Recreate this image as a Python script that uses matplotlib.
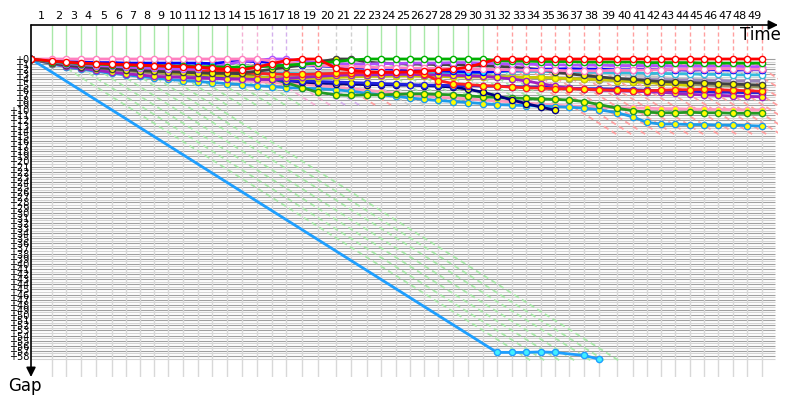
import matplotlib
matplotlib.use("Agg")
import matplotlib.pyplot as plt
import numpy as np

nan = np.nan

# leader lap times (s), lap 1 .. 49
lap_times = [126, 84, 90, 90, 96, 84, 84, 84, 84, 90,
             90, 84, 90, 90, 90, 90, 84, 96, 96, 108,
             90, 96, 84, 90, 84, 84, 84, 90, 90, 90,
             84, 90, 84, 90, 84, 84, 90, 90, 108, 96,
             84, 84, 84, 90, 84, 84, 90, 84, 90]

# colour of the leader at the end of each lap (g green, p pink, v lavender, r red, k grey)
leader = "ggggggggggggg" + "pp" + "vv" + "rr" + "kk" + "ggggggggg" + "rrrrrrrrrrrrrrrrrrr"
# depth of the dashed reference lines from each lap mark
diag_depth = [59] * 7 + [9] * 23 + [15] * 18 + [0]
diag_rate = 0.0205

# gaps to leader at laps 0 .. 49
gap_pink = [0, 0, 0, 0, 0, 0, 0, 0, 0, 0,
            0, 0, 0, 0, 0, 0, 0.4, 0.8, 1.0, 1.2,
            1.4, 1.5, 1.6, 1.7, 1.7, 1.8, 1.8, 1.9, 1.9, 2.0,
            2.0, 2.1, 2.1, 2.2, 2.2, 2.2, 2.3, 2.3, 2.3, 2.2,
            2.2, 2.1, 2.1, 2.0, 2.0, 2.0, 1.9, 1.9, 2.0, 2.0]
gap_red = [0, 0.4, 0.6, 0.8, 0.9, 1.0, 1.1, 1.2, 1.3, 1.4,
           1.5, 1.6, 1.8, 2.0, 2.1, 1.6, 0.9, 0.3, 0, 0,
           1.8, 2.2, 2.5, 2.6, 2.6, 2.5, 2.4, 2.2, 2.0, 1.6,
           0.8, 0, 0, 0, 0, 0, 0, 0, 0, 0,
           0, 0, 0, 0, 0, 0, 0, 0, 0, 0]
gap_red2 = [0, 0.6, 0.9, 1.1, 1.3, 1.5, 1.6, 1.8, 1.9, 2.0,
            2.1, 2.2, 2.3, 2.5, 2.7, 2.8, 2.9, 3.0, 3.0, 2.9,
            2.8, 2.7, 2.7, 2.6, 2.5, 2.4, 3.0, 4.2, 4.8, 5.0,
            5.2, 5.3, 5.5, 5.6, 5.7, 5.8, 5.8, 5.9, 6.0, 6.1,
            6.2, 6.2, 6.1, 6.0, 6.0, 5.9, 6.0, 6.1, 6.2, 6.3]
gap_green = [0, 0.5, 0.7, 0.9, 1.0, 1.1, 1.2, 1.3, 1.3, 1.4,
             1.4, 1.5, 1.5, 1.6, 1.6, 1.5, 1.4, 1.2, 1.0, 0.8,
             0.5, 0.2, 0, 0, 0, 0, 0, 0, 0, 0,
             0, 0.3, 0.4, 0.4, 0.5, 0.5, 0.5, 0.6, 0.6, 0.6,
             0.6, 0.7, 0.7, 0.7, 0.7, 0.8, 0.8, 0.8, 0.8, 0.8]
gap_blue = [0, 0.3, 0.5, 0.6, 0.7, 0.7, 0.8, 0.8, 0.8, 0.8,
            0.8, 0.8, 0.9, 0.6, 0.4, 0.5, 0.7, 0.9, 1.1, 1.3,
            1.5, 1.7, 1.8, 1.9, 2.0, 2.1, 2.2, 2.3, 2.4, 2.5,
            2.6, 2.4, 2.2, 2.1, 2.0, 2.0, 1.9, 2.0, 2.0, 2.1,
            2.1, 2.0, 2.1, 2.1, 2.2, 2.1, 2.1, 2.2, 2.1, 2.1]
gap_dark = [0, 0.8, 1.2, 1.5, 1.7, 1.9, 2.1, 2.3, 2.4, 2.5,
            2.6, 2.7, 2.8, 2.8, 2.7, 2.4, 2.0, 1.6, 1.2, 0.6,
            0, 0, 0.6, 0.8, 0.9, 1.0, 1.0, 1.1, 1.1, 1.2,
            1.3, 1.4, 1.6, 1.8, 2.1, 2.5, 2.9, 3.2, 3.5, 3.8,
            4.0, 4.2, 4.4, 4.5, 4.6, 4.7, 4.8, 4.9, 5.0, 5.1]
gap_violet = [0, 0.6, 0.9, 1.1, 1.3, 1.4, 1.6, 1.7, 1.8, 1.9,
              2.0, 2.0, 1.6, 1.0, 0.5, 0.2, 0, 0, 0.4, 0.7,
              0.9, 1.0, 1.0, 0.9, 0.9, 0.8, 0.8, 0.8, 0.7, 0.7,
              0.8, 0.9, 1.0, 1.0, 1.1, 1.1, 1.2, 1.2, 1.2, 1.3,
              1.3, 1.3, 1.3, 1.4, 1.4, 1.4, 1.4, 1.4, 1.5, 1.5]
gap_purple = [0, 0.8, 1.4, 1.8, 2.2, 2.6, 2.9, 3.1, 3.4, 3.5,
              3.6, 3.7, 3.8, 3.9, 3.9, 4.0, 4.0, 3.8, 3.6, 3.4,
              3.2, 3.1, 3.1, 3.1, 3.0, 3.0, 3.1, 3.1, 3.2, 3.3,
              3.4, 3.6, 3.9, 4.3, 4.8, 5.3, 5.7, 5.9, 6.1, 6.2,
              6.3, 6.4, 6.5, 6.7, 6.9, 7.0, 7.1, 7.2, 7.3, 7.4]
gap_navy = [0, 0.5, 0.9, 1.2, 1.4, 1.6, 1.8, 2.0, 2.2, 2.3,
            2.4, 2.6, 2.8, 3.0, 3.3, 3.6, 3.9, 4.2, 4.5, 4.7,
            4.8, 4.9, 5.0, 5.0, 5.1, 5.1, 5.2, 5.3, 5.5, 5.9,
            6.5, 7.2, 8.0, 8.7, 9.4, 10.0, nan, nan, nan, nan,
            nan, nan, nan, nan, nan, nan, nan, nan, nan, nan]
gap_sky = [0, 1.0, 1.5, 2.0, 2.4, 2.8, 3.1, 3.4, 3.7, 4.0,
           4.2, 4.4, 4.6, 4.8, 5.0, 5.2, 5.4, 5.6, 5.7, 5.8,
           6.0, 6.3, 6.7, 7.0, 7.3, 7.6, 7.9, 8.1, 8.3, 8.5,
           8.7, 8.9, 9.0, 9.1, 9.2, 9.3, 9.4, 9.6, 9.9, 10.5,
           11.3, 12.4, 12.7, 12.7, 12.8, 12.8, 12.9, 12.9, 13.0, 13.1]
gap_green2 = [0, 0.6, 1.0, 1.3, 1.6, 1.8, 2.0, 2.2, 2.3, 2.4,
              2.5, 2.6, 2.7, 2.8, 3.0, 3.4, 3.9, 4.6, 5.6, 6.5,
              7.0, 7.1, 7.0, 7.0, 6.9, 6.8, 6.8, 6.9, 7.0, 7.2,
              7.4, 7.5, 7.6, 7.7, 7.8, 7.9, 8.0, 8.3, 8.9, 9.6,
              10.1, 10.4, 10.5, 10.5, 10.4, 10.5, 10.5, 10.6, 10.6, 10.6]
gap_rose = [0, 0.9, 1.4, 1.8, 2.1, 2.4, 2.6, 2.8, 3.0, 3.2,
            3.4, 3.6, 3.8, 4.0, 4.2, 4.4, 4.6, 4.8, 5.0, 5.2,
            5.5, 5.8, 6.1, 6.4, 6.7, 7.0, 7.3, 7.5, 7.6, 7.8,
            8.0, 8.2, 8.4, 8.6, 8.8, 9.0, 9.2, 9.3, 9.4, 9.5,
            9.6, 9.6, 9.7, 9.7, 9.8, 9.8, 9.9, 9.9, 10.0, 10.0]
gap_teal = [0, 0.7, 1.0, 1.2, 1.4, 1.5, 1.7, 1.8, 2.0, 2.1,
            2.2, 2.3, 2.4, 2.5, 2.6, 2.7, 2.8, 2.8, 2.9, 2.9,
            2.9, 3.0, 3.0, 3.0, 2.9, 2.9, 2.8, 2.8, 2.7, 2.7,
            2.6, 2.5, 2.4, 2.4, 2.4, 2.5, 2.5, 2.6, 2.6, 2.7,
            2.7, 2.8, 2.8, 2.9, 2.9, 3.0, 3.0, 3.1, 3.1, 3.1]
gap_lilac = [0, 0.4, 0.7, 0.9, 1.1, 1.3, 1.5, 1.6, 1.8, 1.9,
             2.0, 2.1, 2.2, 2.3, 2.5, 2.7, 2.8, 2.9, 3.0, 3.0,
             3.1, 3.1, 3.1, 3.2, 3.2, 3.2, 3.3, 3.3, 3.3, 3.4,
             3.4, 3.5, 3.5, 3.6, 3.6, 3.7, 3.7, 3.8, 3.8, 3.9,
             3.9, 4.0, 4.0, 4.1, 4.1, 4.2, 4.2, 4.3, 4.3, 4.3]
gap_olive = [0, 0.9, 1.3, 1.6, 1.9, 2.1, 2.3, 2.5, 2.7, 2.9,
             3.0, 3.1, 3.2, 3.3, 3.4, 3.5, 3.5, 3.5, 3.4, 3.3,
             3.2, 3.2, 3.1, 3.1, 3.0, 3.0, 3.0, 3.1, 3.1, 3.2,
             3.3, 3.4, 3.5, 3.6, 3.7, 3.8, 3.9, 4.0, 4.1, 4.2,
             4.4, 4.5, 4.7, 4.8, 5.0, 5.1, 5.2, 5.3, 5.4, 5.5]
gap_yellow = [0, 0.6, 1.0, 1.3, 1.6, 1.8, 2.0, 2.2, 2.4, 2.6,
              2.8, 3.0, 3.1, 3.3, 3.4, 3.6, 3.7, 3.8, 3.8, 3.7,
              3.6, 3.5, 3.4, 3.4, 3.3, 3.3, 3.4, 3.4, 3.5, 3.5,
              3.5, 3.5, 3.5, 3.6, 3.6, 3.7, 3.8, 3.9, 4.0, 4.2,
              4.4, 4.6, 4.8, 5.0, 5.2, nan, nan, nan, nan, nan]
gap_blue2 = [0, 0.7, 1.1, 1.5, 1.8, 2.0, 2.2, 2.4, 2.6, 2.8,
             3.0, 3.2, 3.4, 3.6, 3.7, 3.9, 4.0, 4.2, 4.3, 4.4,
             4.5, 4.6, 4.7, 4.8, 4.9, 5.0, 5.1, 5.1, 5.2, 5.2,
             5.3, 5.3, 5.4, 5.5, 5.5, 5.6, 5.7, 5.8, 5.8, 5.9,
             6.0, 6.1, 6.2, 6.3, 6.3, 6.4, 6.5, 6.5, 6.6, 6.6]
gap_silver = [0, 0.5, 0.8, 1.0, 1.2, 1.3, 1.4, 1.5, 1.6, 1.7,
              1.8, 1.9, 2.0, 2.1, 2.2, 2.3, 2.3, 2.4, 2.4, 2.4,
              2.3, 2.2, 2.1, 2.0, 2.0, 1.9, 1.9, 1.8, 1.8, 1.8,
              1.7, 1.7, 1.8, 1.9, 2.0, 2.2, 2.4, 2.6, 2.8, 3.0,
              3.2, 3.4, 3.6, 3.8, 3.9, 4.0, 4.1, 4.2, 4.3, 4.4]

# car that fell far behind on the opening lap
out_laps = [0, 31, 32, 33, 34, 35, 37, 38]
out_gaps = [0, 57.3, 57.3, 57.3, 57.2, 57.3, 57.9, 58.6]

series = [
    (gap_silver, "#c8c8c8", "white"),
    (gap_rose, "#ff99bb", "yellow"),
    (gap_sky, "#1e9be8", "yellow"),
    (gap_green2, "#229922", "yellow"),
    (gap_navy, "#000080", "yellow"),
    (gap_blue2, "#2222dd", "yellow"),
    (gap_olive, "#999966", "white"),
    (gap_lilac, "#9988bb", "white"),
    (gap_yellow, "#cccc00", "yellow"),
    (gap_teal, "#33bbdd", "white"),
    (gap_purple, "#a020c0", "yellow"),
    (gap_red2, "#ff2020", "yellow"),
    (gap_dark, "#404040", "yellow"),
    (gap_blue, "#0000ff", "cyan"),
    (gap_violet, "#b050ff", "white"),
    (gap_pink, "#ff80c0", "white"),
    (gap_green, "#00b000", "white"),
    (gap_red, "#ff0000", "white"),
]

top_colors = {"g": "#a8e8a8", "p": "#f4b0d4", "v": "#d4b0ec", "r": "#ffa0a0", "k": "#d0d0d0"}

t = np.concatenate([[0], np.cumsum(lap_times)])
y_top, y_bot = -6.64, 62.1
x_max = 4482

fig = plt.figure(figsize=(8, 4), dpi=100)
ax = fig.add_axes([31 / 800, 23 / 400, 747 / 800, 352 / 400])
ax.set_xlim(0, x_max)
ax.set_ylim(y_bot, y_top)
for s in ax.spines.values():
    s.set_visible(False)

# grid
for g in np.arange(0, 58.6, 0.5):
    ax.hlines(g, 0, 4464, color="#a0a0a0" if g % 1 == 0 else "#d4d4d4", lw=0.8, zorder=0)
ax.vlines(t[1:], 0, y_bot, color="#d8d8d8", lw=1, zorder=0)

for k in range(1, len(t)):
    c = top_colors[leader[k - 1]]
    ls = "-" if leader[k - 1] == "g" else (0, (3, 2))
    ax.vlines(t[k], y_top, 0, color=c, lw=1, linestyles=ls, zorder=1)
    d = diag_depth[k - 1]
    if d > 0:
        ax.plot([t[k], t[k] + d / diag_rate], [0, d], color=c, lw=1.3,
                ls=(0, (3, 2)), zorder=1)

ax.plot(t[out_laps], out_gaps, "-o", color="#1e9fff", lw=2, ms=4.5,
        mfc="#40f0ff", mec="#1e9fff", mew=1, zorder=2)
for vals, c, mfc in series:
    ax.plot(t, vals, "-o", color=c, lw=2, ms=4.5, mfc=mfc, mec=c, mew=1, zorder=3)

# axes with arrows
ax.annotate("", xy=(1, 1), xytext=(0, 1), xycoords="axes fraction",
            arrowprops=dict(arrowstyle="-|>", color="black", lw=1.2,
                            shrinkA=0, shrinkB=0, mutation_scale=14))
ax.annotate("", xy=(0, 0), xytext=(0, 1), xycoords="axes fraction",
            arrowprops=dict(arrowstyle="-|>", color="black", lw=1.2,
                            shrinkA=0, shrinkB=0, mutation_scale=14))
fig.text(760 / 800, 1 - 35 / 400, "Time", ha="center", va="center", fontsize=12)
fig.text(25 / 800, 1 - 386 / 400, "Gap", ha="center", va="center", fontsize=12)

ax.xaxis.tick_top()
ax.set_xticks((t[:-1] + t[1:]) / 2)
ax.set_xticklabels([str(i) for i in range(1, len(t))], fontsize=8)
ax.tick_params(axis="x", length=0, pad=3)
ax.set_yticks(range(59))
ax.set_yticklabels(["+%d" % i for i in range(59)], fontsize=7)
ax.tick_params(axis="y", length=0, pad=1)

fig.savefig("out.png", dpi=100)
